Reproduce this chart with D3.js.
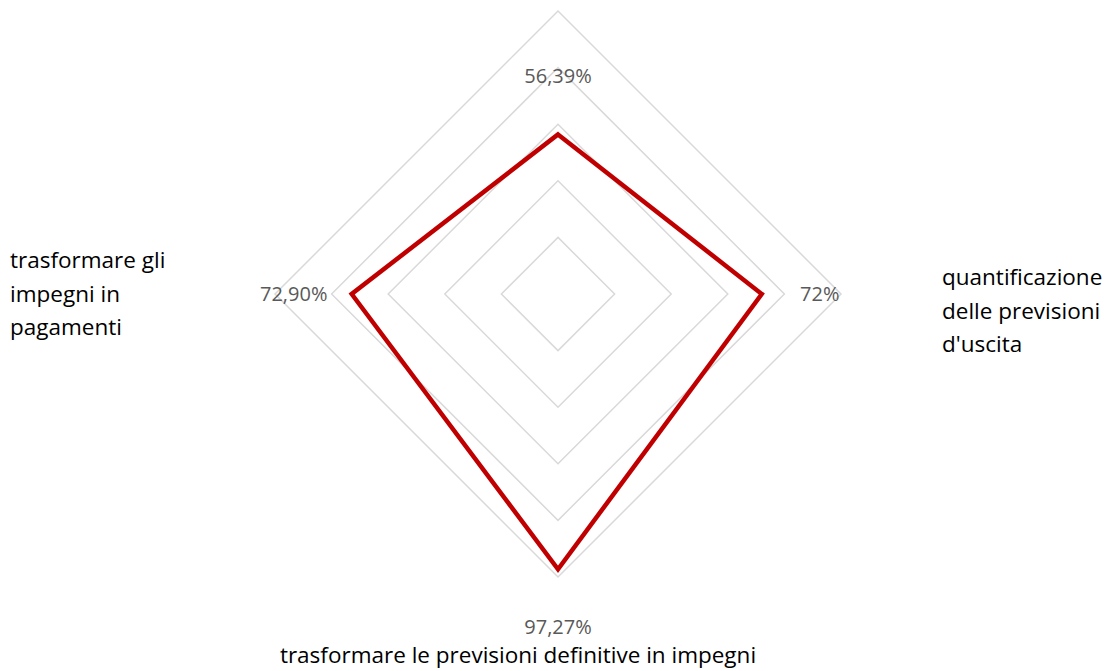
<!doctype html>
<html>
  <head>
    <meta charset="utf-8">
    <script src="https://cdnjs.cloudflare.com/ajax/libs/d3/7.8.5/d3.min.js"></script>
    <style>
      body { margin: 0; background: #fff; }
      text { font-family: "Open Sans", sans-serif; }
    </style>
  </head>
  <body>
    <svg width="1114" height="671"></svg>
    <script>
      // axes go clockwise from the top
      var categories = [
        "",
        "quantificazione delle previsioni d'uscita",
        "trasformare le previsioni definitive in impegni",
        "trasformare gli impegni in pagamenti"
      ];
      var values = [0.5639, 0.72, 0.9727, 0.729];
      var valueLabels = ["56,39%", "72%", "97,27%", "72,90%"];
      var gridLevels = [0.2, 0.4, 0.6, 0.8, 1.0];

      var cx = 558, cy = 294, R = 283;
      var svg = d3.select("svg");
      var r = d3.scaleLinear().domain([0, 1]).range([0, R]);
      var angle = d3.scaleLinear().domain([0, categories.length]).range([0, 2 * Math.PI]);

      var g = svg.append("g").attr("transform", "translate(" + cx + "," + cy + ")");

      var radial = d3.lineRadial()
        .angle((d, i) => angle(i))
        .radius(d => r(d))
        .curve(d3.curveLinearClosed);

      g.selectAll("path.grid").data(gridLevels)
        .enter()
        .append("path")
          .attr("class", "grid")
          .attr("d", lvl => radial(categories.map(() => lvl)))
          .style("fill", "none")
          .style("stroke", "#d9d9d9")
          .style("stroke-width", 1.5);

      g.append("path")
        .attr("d", radial(values))
        .style("fill", "none")
        .style("stroke", "#c00000")
        .style("stroke-width", 4.5)
        .style("stroke-linejoin", "miter");

      // data labels, pushed outward from each point
      g.selectAll("text.val").data(values)
        .enter()
        .append("text")
          .attr("class", "val")
          .attr("x", (d, i) => Math.sin(angle(i)) * (r(d) + 58))
          .attr("y", (d, i) => -Math.cos(angle(i)) * (r(d) + 58))
          .attr("dy", "0.35em")
          .attr("text-anchor", "middle")
          .style("font-size", "20px")
          .style("fill", "#595959")
          .text((d, i) => valueLabels[i]);

      // category labels, wrapped as in the original
      var catLines = [
        [],
        ["quantificazione", "delle previsioni", "d'uscita"],
        ["trasformare le previsioni definitive in impegni"],
        ["trasformare gli", "impegni in", "pagamenti"]
      ];
      var catPos = [
        {x: 0, y: 0, anchor: "middle"},
        {x: 942, y: 285, anchor: "start"},
        {x: 518, y: 663, anchor: "middle"},
        {x: 10, y: 268, anchor: "start"}
      ];
      catLines.forEach(function(lines, i) {
        var t = svg.append("text")
          .attr("text-anchor", catPos[i].anchor)
          .style("font-size", "22.5px")
          .style("fill", "#000");
        lines.forEach(function(line, j) {
          t.append("tspan")
            .attr("x", catPos[i].x)
            .attr("y", catPos[i].y + j * 33.5)
            .text(line);
        });
      });
    </script>
  </body>
</html>
